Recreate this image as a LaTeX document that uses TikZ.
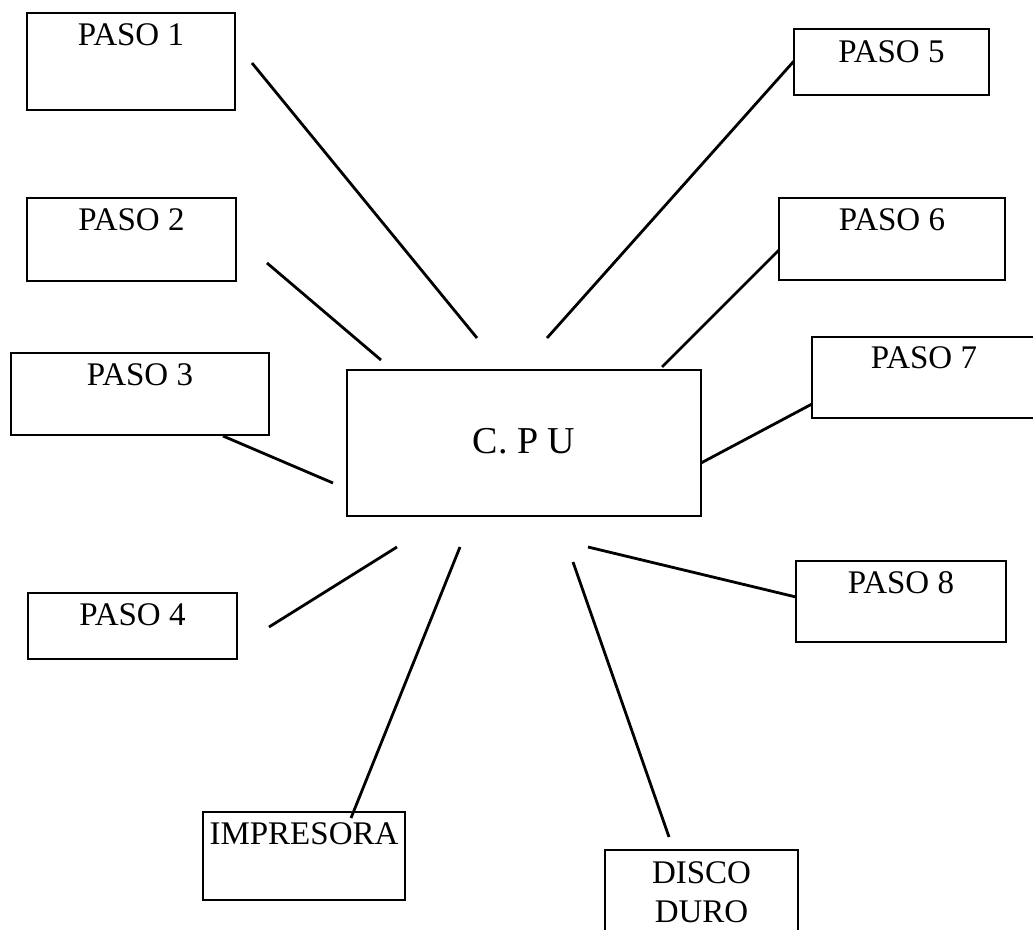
\documentclass[tikz,border=0pt]{standalone}
\usepackage{fontspec}
\setmainfont{Liberation Serif}
\tikzset{
  box/.style={draw, line width=2.8pt, inner sep=0pt, fill=white,
    font=\fontsize{33}{39}\selectfont},
  cpubox/.style={box, font=\fontsize{38}{44}\selectfont},
  wire/.style={line width=2.8pt},
}
\begin{document}
\begin{tikzpicture}[x=1pt,y=-1pt]
\useasboundingbox (0,0) rectangle (1033,929);
\clip (0,0) rectangle (1033,929);
% boxes
\node[box, minimum width=208pt, text height=32pt, text depth=65pt] (p1) at (131,61.5) {PASO 1};
\node[box, minimum width=209pt, text height=32pt, text depth=51pt] (p2) at (131.5,239.5) {PASO 2};
\node[box, minimum width=258pt, text height=32pt, text depth=50pt] (p3) at (140,394) {PASO 3};
\node[box, minimum width=209pt, text height=32pt, text depth=34pt] (p4) at (132.5,626) {PASO 4};
\node[box, minimum width=195pt, text height=33pt, text depth=33pt] (p5) at (891.5,62) {PASO 5};
\node[box, minimum width=226pt, text height=32pt, text depth=50pt] (p6) at (892,239) {PASO 6};
\node[box, minimum width=224pt, text height=31pt, text depth=50pt] (p7) at (924,377.5) {PASO 7};
\node[box, minimum width=210pt, text height=32pt, text depth=49pt] (p8) at (901,601.5) {PASO 8};
\node[cpubox, minimum width=354pt, text height=83pt, text depth=63pt] (cpu) at (524,443) {C. P U};
\node[box, minimum width=202pt, text height=32pt, text depth=56pt] (imp) at (304,856) {IMPRESORA};
\node[box, align=center, minimum width=193pt, text height=72pt, text depth=48pt] (disco) at (701.5,910) {DISCO\\DURO};
% connector end points
\coordinate (a1) at (252,63);  \coordinate (b1) at (477,338);
\coordinate (a2) at (267,263); \coordinate (b2) at (381,360);
\coordinate (a3) at (223,436); \coordinate (b3) at (333,483);
\coordinate (a4) at (269,627); \coordinate (b4) at (397,547);
\coordinate (a5) at (794,61);  \coordinate (b5) at (547,338);
\coordinate (a6) at (779,250); \coordinate (b6) at (662,367);
\coordinate (a7) at (812,404); \coordinate (b7) at (701,463);
\coordinate (a8) at (796,597); \coordinate (b8) at (588,547);
\coordinate (a9) at (351,818); \coordinate (b9) at (460,547);
\coordinate (a10) at (669,837); \coordinate (b10) at (573,562);
% connectors
\foreach \i in {1,...,10} {\draw[wire] (a\i) -- (b\i);}
\end{tikzpicture}
\end{document}
